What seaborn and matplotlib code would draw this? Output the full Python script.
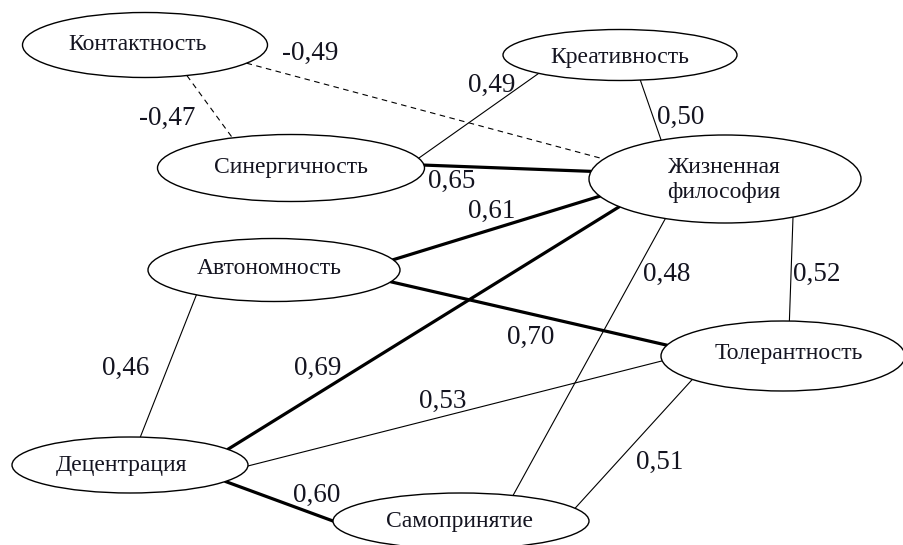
import numpy as np
import pandas as pd
import matplotlib
matplotlib.use("Agg")
import matplotlib.pyplot as plt
from matplotlib.patches import Ellipse
import seaborn as sns

# ---- data ----
nodes = ["Контактность", "Синергичность", "Креативность", "Жизненная\nфилософия",
         "Автономность", "Децентрация", "Самопринятие", "Толерантность"]
node_x = [145, 291, 620, 725, 274, 130, 461, 783]
node_y = [45, 168, 55, 179, 270, 465, 521, 356]

edge_src = ["Контактность", "Контактность", "Синергичность", "Синергичность",
            "Креативность", "Автономность", "Автономность", "Автономность",
            "Децентрация", "Децентрация", "Децентрация",
            "Жизненная\nфилософия", "Жизненная\nфилософия", "Толерантность"]
edge_dst = ["Синергичность", "Жизненная\nфилософия", "Креативность", "Жизненная\nфилософия",
            "Жизненная\nфилософия", "Жизненная\nфилософия", "Толерантность", "Децентрация",
            "Жизненная\nфилософия", "Толерантность", "Самопринятие",
            "Самопринятие", "Толерантность", "Самопринятие"]
edge_r = [-0.47, -0.49, 0.49, 0.65, 0.50, 0.61, 0.70, 0.46,
          0.69, 0.53, 0.60, 0.48, 0.52, 0.51]
edge_labels = ["-0,47", "-0,49", "0,49", "0,65", "0,50", "0,61", "0,70", "0,46",
               "0,69", "0,53", "0,60", "0,48", "0,52", "0,51"]

# ---- layout / style ----
node_w = [245, 267, 234, 272, 252, 236, 256, 244]
node_h = [65, 67, 51, 88, 63, 56, 56, 70]
text_x = [138, 291, 620, 724, 269, 122, 460, 789]
text_y = [44, 167, 57, 180, 269, 465, 521, 353]
# attachment angles (deg) on source / target ellipses
ang_src = [70, 34, -17, -5, 80, -19, 22, 128, -34, 2, 36, 116, 60, 138]
ang_dst = [-116, 207, 134, 190, -118, 157, 198, -85, 141, 172, 180, -66, -87, -27]
lab_x = [167, 310, 492, 452, 681, 492, 531, 126, 318, 443, 317, 667, 817, 660]
lab_y = [118, 53, 85, 181, 117, 211, 337, 368, 368, 401, 495, 274, 274, 462]

pos = {n: (x, y, w / 2, h / 2) for n, x, y, w, h in zip(nodes, node_x, node_y, node_w, node_h)}

def anchor(name, deg):
    cx, cy, a, b = pos[name]
    t = np.deg2rad(deg)
    return cx + a * np.cos(t), cy + b * np.sin(t)

rows = []
for i, (s, d, r) in enumerate(zip(edge_src, edge_dst, edge_r)):
    strength = "strong" if abs(r) >= 0.6 else "weak"
    sign = "neg" if r < 0 else "pos"
    for k, (nm, ang) in enumerate(((s, ang_src[i]), (d, ang_dst[i]))):
        x, y = anchor(nm, ang)
        rows.append(dict(edge=i, order=k, x=x, y=y, strength=strength, sign=sign))
df = pd.DataFrame(rows)

sns.set_theme(style="white")
plt.rcParams["font.family"] = ["Liberation Serif", "DejaVu Serif"]

fig = plt.figure(figsize=(9.04, 5.45), dpi=100)
ax = fig.add_axes([0, 0, 1, 1])

sns.lineplot(data=df, x="x", y="y", units="edge", estimator=None, sort=False,
             size="strength", sizes={"strong": 2.3, "weak": 0.8},
             style="sign", dashes={"pos": "", "neg": (5, 4)},
             color="black", legend=False, ax=ax, zorder=2)

for n, tx, ty in zip(nodes, text_x, text_y):
    cx, cy, a, b = pos[n]
    ax.add_patch(Ellipse((cx, cy), 2 * a, 2 * b, facecolor="white",
                         edgecolor="black", lw=1.0, zorder=3))
    ax.text(tx, ty, n, ha="center", va="center", fontsize=17,
            color="#141420", zorder=4, linespacing=1.25)

for lx, ly, t in zip(lab_x, lab_y, edge_labels):
    ax.text(lx, ly, t, ha="center", va="center", fontsize=19.5,
            color="#141420", zorder=4)

ax.set_xlim(0, 904)
ax.set_ylim(545, 0)
ax.set_axis_off()
fig.savefig("out.png", dpi=100, facecolor="white")
